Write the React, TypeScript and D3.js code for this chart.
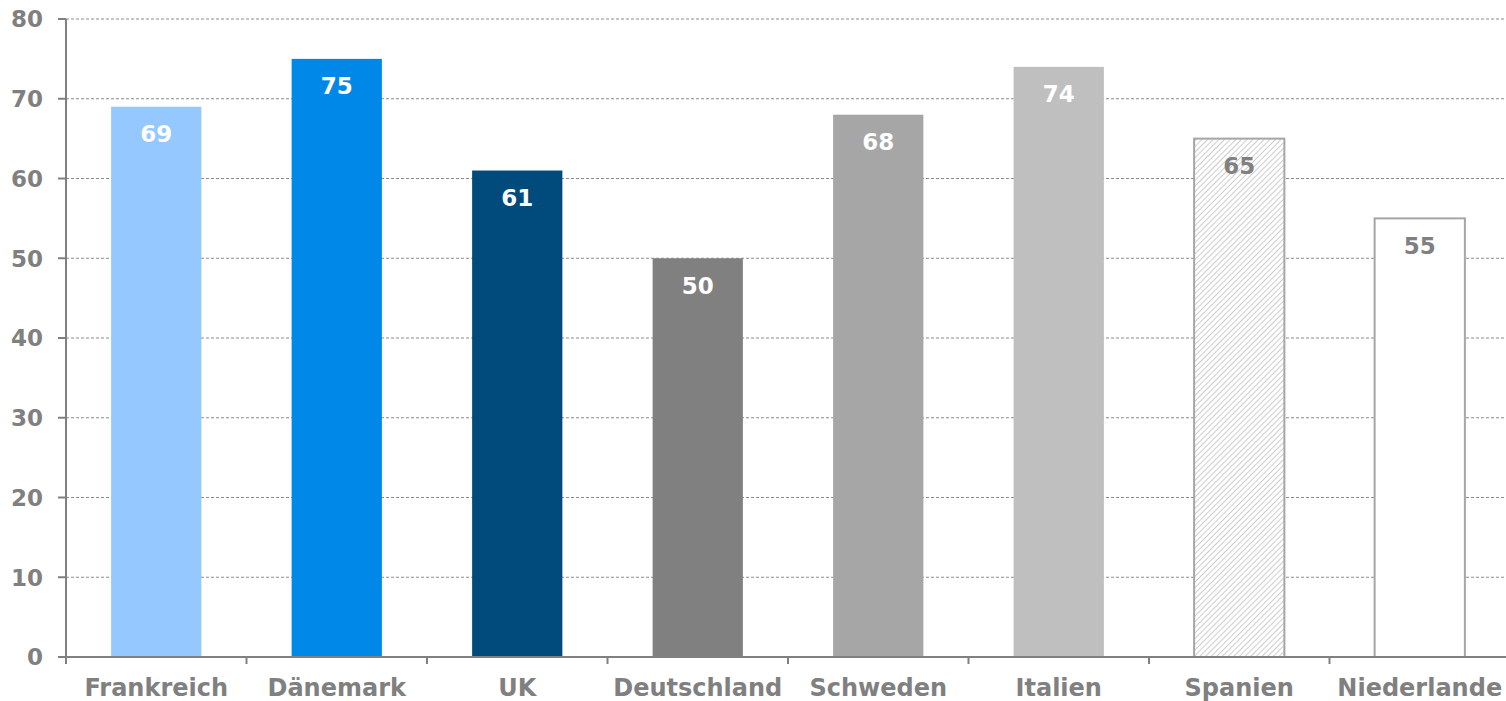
import React from "react";
import * as d3 from "d3";

const categories = ["Frankreich", "Dänemark", "UK", "Deutschland", "Schweden", "Italien", "Spanien", "Niederlande"];
const values = [69, 75, 61, 50, 68, 74, 65, 55];
const fills = ["#94C8FF", "#0088E8", "#004A7C", "#808080", "#A6A6A6", "#BFBFBF", "url(#hatch)", "#FFFFFF"];
const strokes = ["none", "none", "none", "none", "none", "none", "#A6A6A6", "#A6A6A6"];
const labelColors = ["#FFFFFF", "#FFFFFF", "#FFFFFF", "#FFFFFF", "#FFFFFF", "#FFFFFF", "#808080", "#808080"];
const yTicks = [0, 10, 20, 30, 40, 50, 60, 70, 80];

export default function App() {
  const W = 1506, H = 701;
  const left = 66, right = 1510, top = 19, bottom = 657;
  const x = d3.scaleBand<string>().domain(categories).range([left, right]).paddingInner(0.5).paddingOuter(0.25);
  const step = (right - left) / categories.length;
  const y = d3.scaleLinear().domain([0, 80]).range([bottom, top]);
  const font = "Verdana, 'DejaVu Sans', sans-serif";
  return (
    <svg width={W} height={H} style={{ position: "absolute", left: 0, top: 0 }} fontFamily={font}>
      <defs>
        <pattern id="hatch" width="4" height="4" patternUnits="userSpaceOnUse" patternTransform="rotate(45)">
          <rect width="4" height="4" fill="#FFFFFF" />
          <line x1="0" y1="0" x2="0" y2="4" stroke="#B8B8B8" strokeWidth="1.4" />
        </pattern>
      </defs>
      {yTicks.map((t) => (
        <g key={t}>
          {t > 0 && (
            <line x1={left} x2={W} y1={y(t)} y2={y(t)} stroke="#8C8C8C" strokeWidth={1} strokeDasharray="3,2" />
          )}
          <line x1={58} x2={left} y1={y(t)} y2={y(t)} stroke="#808080" strokeWidth={2} />
          <text x={43} y={y(t)} dy="0.36em" textAnchor="end" fontSize={23} fontWeight="bold" fill="#808080">
            {t}
          </text>
        </g>
      ))}
      {categories.map((c, i) => {
        const bx = x(c)!;
        const bw = x.bandwidth();
        return (
          <g key={c}>
            <rect
              x={bx}
              y={y(values[i])}
              width={bw}
              height={bottom - y(values[i])}
              fill={fills[i]}
              stroke={strokes[i]}
              strokeWidth={2}
            />
            <text
              x={bx + bw / 2}
              y={y(values[i]) + 27}
              dy="0.36em"
              textAnchor="middle"
              fontSize={23}
              fontWeight="bold"
              fill={labelColors[i]}
            >
              {values[i]}
            </text>
            <text x={bx + bw / 2} y={696} textAnchor="middle" fontSize={24} fontWeight="bold" fill="#808080">
              {c}
            </text>
          </g>
        );
      })}
      {categories.map((c, i) => (
        <line key={"t" + c} x1={left + i * step} x2={left + i * step} y1={bottom} y2={664} stroke="#808080" strokeWidth={2} />
      ))}
      <line x1={left} x2={W} y1={bottom} y2={bottom} stroke="#808080" strokeWidth={2} />
      <line x1={left} x2={left} y1={top} y2={664} stroke="#808080" strokeWidth={2} />
    </svg>
  );
}
